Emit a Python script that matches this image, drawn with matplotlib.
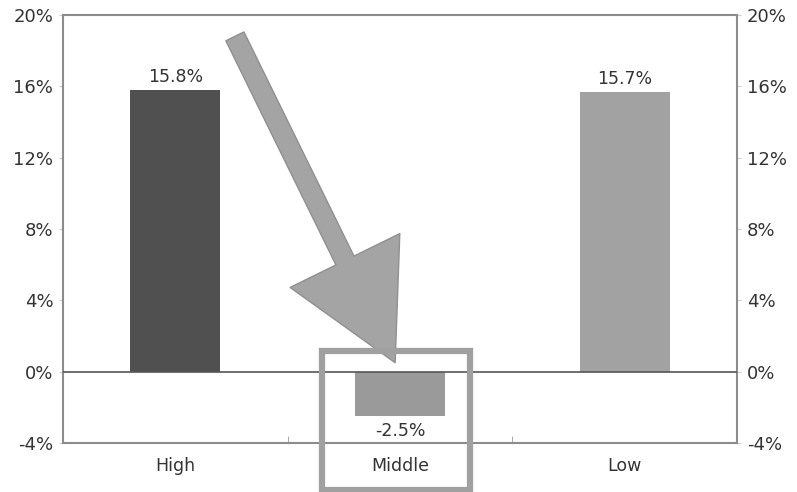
import matplotlib.pyplot as plt
from matplotlib.patches import Rectangle
from matplotlib.ticker import FixedLocator

# data
categories = ['High', 'Middle', 'Low']
returns = [15.8, -2.5, 15.7]
bar_colors = ['#505050', '#9a9a9a', '#a2a2a2']
yticks = [-4, 0, 4, 8, 12, 16, 20]

fig = plt.figure(figsize=(7.97, 4.92), dpi=100)
ax = fig.add_axes([0.079, 0.0996, 0.846, 0.87])

x = list(range(len(categories)))
bars = ax.bar(x, returns, width=0.4, color=bar_colors, zorder=2)

ax.set_xlim(-0.5, 2.5)
ax.set_ylim(-4, 20)
ax.set_yticks(yticks)
ax.set_yticklabels([f'{t}%' for t in yticks])
ax.set_xticks(x)
ax.set_xticklabels(categories)
ax.xaxis.set_minor_locator(FixedLocator([0.5, 1.5]))
ax.tick_params(axis='x', which='major', length=0, pad=10, labelsize=12.5, colors='#333333')
ax.tick_params(axis='x', which='minor', length=5, color='#999999', direction='in')
ax.tick_params(axis='y', length=3, color='#cccccc', labelsize=13, colors='#333333',
               labelright=True, right=True, pad=4)
for sp in ax.spines.values():
    sp.set_color('#8c8c8c')
    sp.set_linewidth(1.5)

ax.axhline(0, color='#555555', lw=1.2, zorder=3)

# value labels
for xi, v in zip(x, returns):
    if v >= 0:
        ax.text(xi, v + 0.2, f'{v}%', ha='center', va='bottom', fontsize=12.5, color='#333333')
    else:
        ax.text(xi, v - 0.3, f'{v}%', ha='center', va='top', fontsize=12.5, color='#333333')

# arrow pointing to the middle bar
ax.annotate('', xy=(0.978, 0.5), xytext=(0.265, 18.8),
            arrowprops=dict(arrowstyle='simple,head_width=88,head_length=82,tail_width=14.5',
                            mutation_scale=1, shrinkA=0, shrinkB=0,
                            fc='#a4a4a4', ec='#909090', lw=1),
            zorder=5)

# highlight box around middle
ax.add_patch(Rectangle((0.653, -6.66), 0.658, 7.83, fill=False, ec='#a0a0a0',
                       lw=4.5, clip_on=False, zorder=6))

fig.savefig('out.png', dpi=100)
